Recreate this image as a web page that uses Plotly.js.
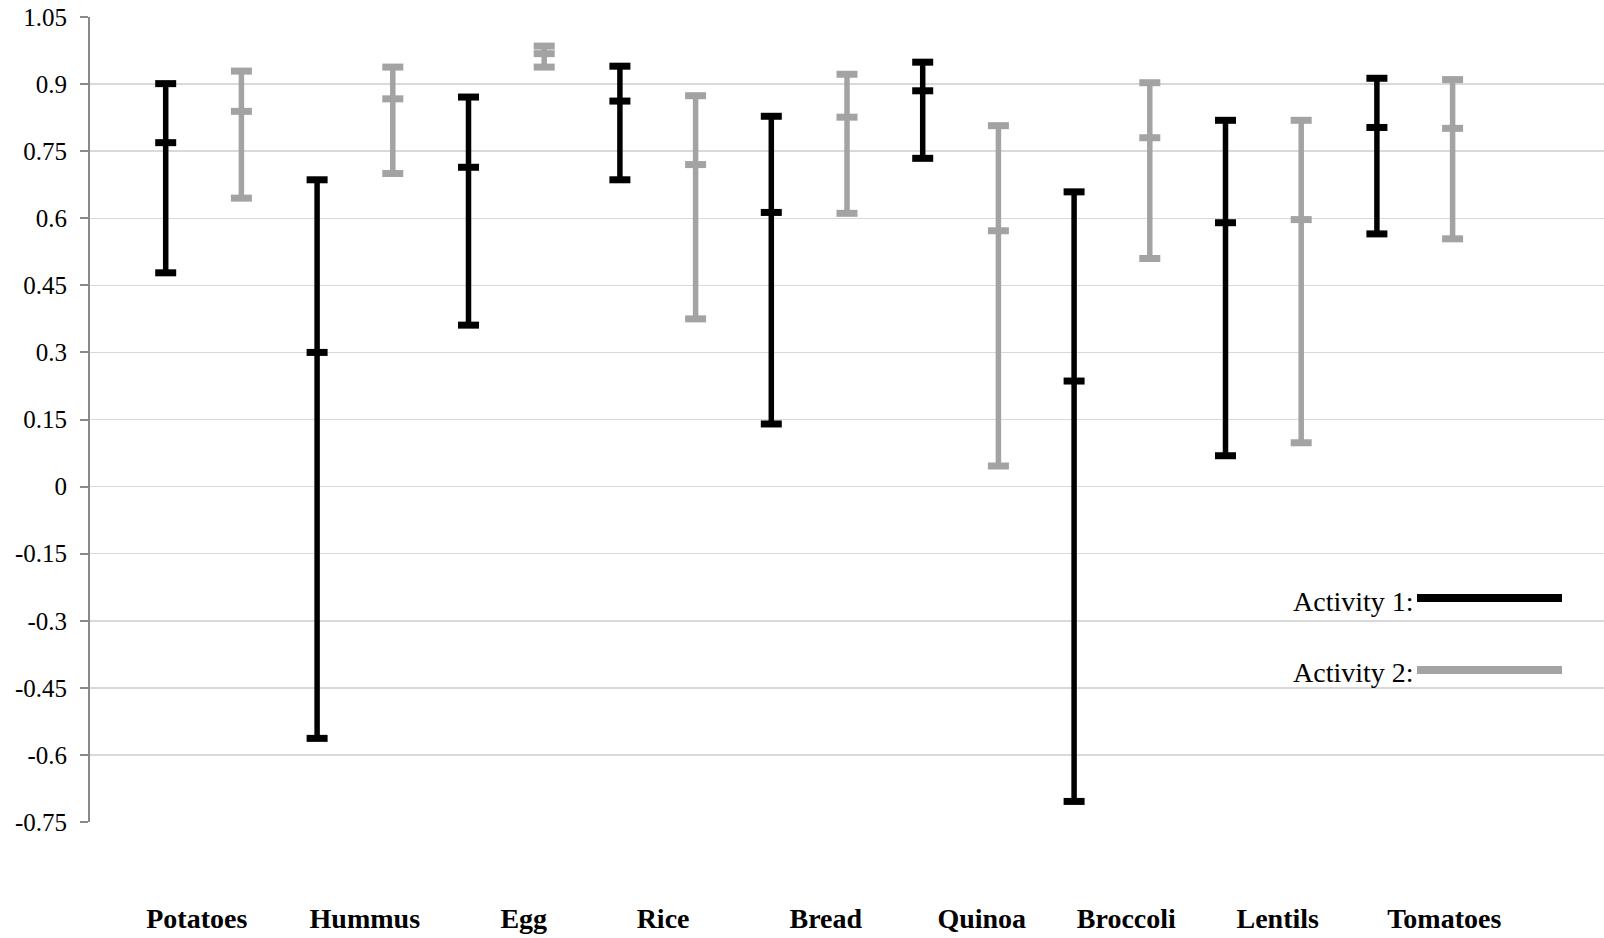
<!DOCTYPE html>
<html>
<head>
<meta charset="utf-8">
<script src="https://cdn.plot.ly/plotly-3.0.1.min.js"></script>
<style>html,body{margin:0;padding:0;background:#fff;}#chart{width:1604px;height:938px;}</style>
</head>
<body>
<div id="chart"></div>
<script>
// ---- data ----
const categories = ["Potatoes","Hummus","Egg","Rice","Bread","Quinoa","Broccoli","Lentils","Tomatoes"];
const act1Mid    = [0.769, 0.300, 0.714, 0.862, 0.613, 0.885, 0.236, 0.590, 0.803];
const act1High   = [0.901, 0.686, 0.871, 0.940, 0.828, 0.949, 0.659, 0.819, 0.913];
const act1Low    = [0.478, -0.563, 0.361, 0.686, 0.140, 0.734, -0.704, 0.069, 0.565];
const act2Mid    = [0.839, 0.867, 0.968, 0.720, 0.826, 0.572, 0.780, 0.597, 0.801];
const act2High   = [0.929, 0.938, 0.985, 0.874, 0.922, 0.807, 0.903, 0.819, 0.910];
const act2Low    = [0.645, 0.700, 0.938, 0.375, 0.611, 0.046, 0.510, 0.098, 0.554];
const yTickVals  = [1.05, 0.9, 0.75, 0.6, 0.45, 0.3, 0.15, 0, -0.15, -0.3, -0.45, -0.6, -0.75];
const yTickText  = ["1.05","0.9","0.75","0.6","0.45","0.3","0.15","0","-0.15","-0.3","-0.45","-0.6","-0.75"];
const seriesNames = ["Activity 1:", "Activity 2:"];

// ---- layout constants ----
const LABEL_SHIFT = [-0.09, 0.13, 0.23, 0.07, 0.22, 0.28, 0.19, 0.19, 0.39];
const BLACK = "#000000", GREY = "#a3a3a3";
const W = 1604, H = 938, ML = 90, MR = 0, MT = 17, MB = 116;
const px = x => (x - ML) / (W - ML - MR);
const py = y => (H - MB - y) / (H - MT - MB);

const x1 = categories.map((c, i) => 2 * i + 1);
const x2 = categories.map((c, i) => 2 * i + 2);

function series(xs, mid, hi, lo, color, name) {
  const bar = {
    type: "scatter", mode: "markers", name: name, x: xs, y: mid,
    marker: {size: 0.1, color: color, opacity: 0},
    error_y: {
      type: "data", symmetric: false,
      array: mid.map((m, i) => hi[i] - m),
      arrayminus: mid.map((m, i) => m - lo[i]),
      color: color, thickness: 5.5, width: 0
    },
    showlegend: false, hoverinfo: "skip"
  };
  const marks = {
    type: "scatter", mode: "markers", name: name,
    x: xs.concat(xs, xs), y: hi.concat(mid, lo),
    marker: {symbol: "line-ew", size: 15, color: color, line: {color: color, width: 7}},
    showlegend: false, hoverinfo: "skip"
  };
  return [bar, marks];
}

const data = [].concat(
  series(x1, act1Mid, act1High, act1Low, BLACK, seriesNames[0]),
  series(x2, act2Mid, act2High, act2Low, GREY, seriesNames[1])
);

const font = "Liberation Serif";
const layout = {
  width: W, height: H,
  margin: {l: ML, r: MR, t: MT, b: MB},
  paper_bgcolor: "#fff", plot_bgcolor: "#fff",
  showlegend: false,
  font: {family: font, color: "#000"},
  xaxis: {
    range: [0, 20], showgrid: false, zeroline: false, showline: false,
    tickmode: "array",
    tickvals: categories.map((c, i) => 2 * i + 1.5 + LABEL_SHIFT[i]),
    ticktext: categories,
    ticks: "", ticklabelstandoff: 77,
    tickfont: {family: font, size: 28, color: "#000", weight: "bold"}
  },
  yaxis: {
    range: [-0.75, 1.05], tickmode: "array", tickvals: yTickVals, ticktext: yTickText,
    showgrid: true, gridcolor: "#d9d9d9", gridwidth: 1.5,
    zeroline: false, showline: true, linecolor: "#898989", linewidth: 2,
    ticks: "outside", ticklen: 8, tickcolor: "#898989", tickwidth: 2,
    ticklabelstandoff: 8,
    tickfont: {family: font, size: 25, color: "#000"}
  },
  annotations: [
    {xref: "paper", yref: "paper", x: px(1416), y: py(602), xanchor: "right", yanchor: "middle",
     text: seriesNames[0], showarrow: false, font: {family: font, size: 28, color: "#000"}},
    {xref: "paper", yref: "paper", x: px(1416), y: py(672), xanchor: "right", yanchor: "middle",
     text: seriesNames[1], showarrow: false, font: {family: font, size: 28, color: "#000"}}
  ],
  shapes: [
    {type: "line", xref: "paper", yref: "paper", x0: px(1417), x1: px(1562), y0: py(598), y1: py(598),
     line: {color: BLACK, width: 8}},
    {type: "line", xref: "paper", yref: "paper", x0: px(1417), x1: px(1562), y0: py(670), y1: py(670),
     line: {color: GREY, width: 8}}
  ]
};

Plotly.newPlot("chart", data, layout, {displayModeBar: false, staticPlot: true});
</script>
</body>
</html>
